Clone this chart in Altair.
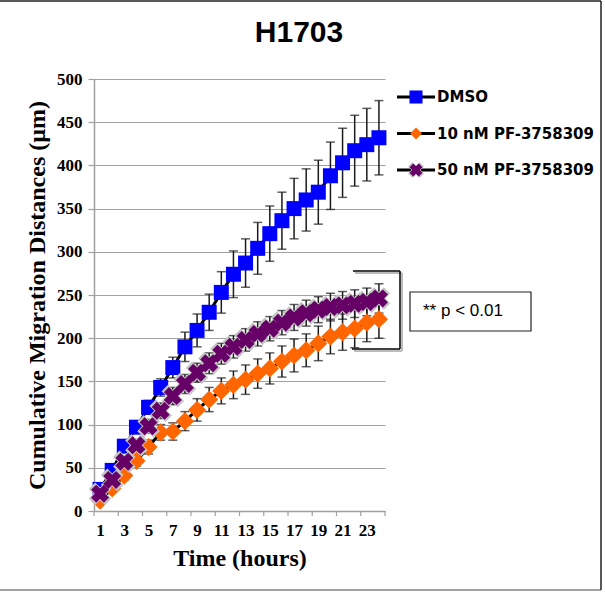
import altair as alt
import pandas as pd

# ---- data -------------------------------------------------------------
hours = list(range(1, 25))

series_names = ["DMSO", "10 nM PF-3758309", "50 nM PF-3758309"]

dmso = [25, 47, 75, 97, 120, 143, 166, 190, 209, 230, 253, 274,
        287, 304, 321, 336, 350, 360, 369, 388, 403, 417, 424, 432]
dmso_err = [3, 4, 5, 6, 8, 10, 12, 17, 19, 21, 24, 27,
            28, 30, 32, 33, 35, 36, 37, 39, 40, 41, 42, 43]

pf10 = [12, 26, 41, 58, 74, 91, 92, 104, 117, 129, 139, 146,
        152, 159, 165, 173, 180, 186, 194, 202, 207, 211, 218, 222]
pf10_err = [3, 4, 5, 6, 8, 9, 10, 11, 13, 14, 15, 16,
            17, 17, 18, 18, 19, 19, 20, 20, 21, 22, 22, 22]

pf50 = [20, 36, 57, 76, 98, 116, 133, 147, 160, 171, 182, 190,
        198, 205, 211, 218, 224, 229, 233, 236, 238, 240, 242, 246]
pf50_err = [4, 5, 6, 7, 8, 9, 10, 11, 11, 12, 12, 13,
            13, 14, 14, 14, 15, 15, 15, 16, 16, 16, 16, 17]

y_ticks = list(range(0, 501, 50))
x_labels = hours[::2]

chart_title = "H1703"
x_title = "Time (hours)"
y_title = "Cumulative Migration Distances (µm)"
note_text = "** p < 0.01"

# ---- long table --------------------------------------------------------
rows = []
for name, vals, errs in zip(series_names, [dmso, pf10, pf50],
                            [dmso_err, pf10_err, pf50_err]):
    for h, v, e in zip(hours, vals, errs):
        rows.append({"hour": h, "series": name, "value": v,
                     "lo": v - e, "hi": v + e})
df = pd.DataFrame(rows)

# category boundaries for the x tick marks (every second hour)
bounds = pd.DataFrame({"b": [h - 0.5 for h in hours[::2]] + [hours[-1] + 0.5]})

W, H = 291, 432
SERIF = "Liberation Serif"
SANS = "Liberation Sans"
AXIS_GREY = "#A0A0A0"

x_scale = alt.Scale(domain=[hours[0] - 0.5, hours[-1] + 0.5], nice=False, zero=False)
y_scale = alt.Scale(domain=[0, 500], nice=False, zero=True)

x_axis = alt.Axis(values=x_labels, ticks=False, tickSize=0, grid=False,
                  domainColor=AXIS_GREY, domainWidth=1.5,
                  labelFont=SERIF, labelFontWeight="bold", labelFontSize=17,
                  labelColor="black", labelPadding=11, labelBaseline="top",
                  title=x_title, titleFont=SERIF, titleFontWeight="bold",
                  titleFontSize=24, titleColor="black", titleY=47,
                  titleBaseline="middle")
y_axis = alt.Axis(values=y_ticks, grid=True, gridColor=AXIS_GREY, gridWidth=1.2,
                  tickColor=AXIS_GREY, tickSize=6, tickWidth=1.2,
                  domainColor=AXIS_GREY, domainWidth=1.5,
                  labelFont=SERIF, labelFontWeight="bold", labelFontSize=17,
                  labelColor="black", labelPadding=6,
                  title=y_title, titleFont=SERIF, titleFontWeight="bold",
                  titleFontSize=24, titleColor="black", titleAngle=270,
                  titleX=-57, titleY=H / 2, titleAlign="center",
                  titleBaseline="middle")


def xq(field):
    return alt.X(field, type="quantitative", scale=x_scale, axis=x_axis)


def yq(field):
    return alt.Y(field, type="quantitative", scale=y_scale, axis=y_axis)


base = alt.Chart(df)
ERR = "#1a1a1a"

# error bars
err_rule = base.mark_rule(color=ERR, strokeWidth=1.5).encode(
    x=xq("hour"), y=yq("lo"), y2="hi:Q")
cap_hi = base.mark_tick(orient="horizontal", size=9, thickness=1.5, color=ERR).encode(
    x=xq("hour"), y=yq("hi"))
cap_lo = base.mark_tick(orient="horizontal", size=9, thickness=1.5, color=ERR).encode(
    x=xq("hour"), y=yq("lo"))

# outward tick marks on the x axis at category boundaries
x_ticks = alt.Chart(bounds).mark_rule(color=AXIS_GREY, strokeWidth=1.2).encode(
    x=xq("b"), y=alt.value(H), y2=alt.value(H + 5))

lines = base.mark_line(color="black", strokeWidth=3).encode(
    x=xq("hour"), y=yq("value"), detail="series:N")


def markers(name, **mark):
    return base.transform_filter(alt.datum.series == name).mark_point(
        filled=True, opacity=1, strokeWidth=0, **mark).encode(
        x=xq("hour"), y=yq("value"))


blue = markers(series_names[0], shape="square", size=225, color="#0000FF")
orange = markers(series_names[1], shape="diamond", size=330, color="#FF6600")
purple_halo = markers(series_names[2], shape="cross", angle=45, size=520,
                      color="#C4C4C4")
purple = markers(series_names[2], shape="cross", angle=45, size=330,
                 color="#660066")

# ---- legend -------------------------------------------------------------
legend_layers = []
legend_marks = [
    dict(shape="square", size=170, color="#0000FF"),
    dict(shape="diamond", size=140, color="#FF6600"),
    dict(shape="cross", angle=45, size=170, color="#660066"),
]
for i, (name, mk) in enumerate(zip(series_names, legend_marks)):
    ly = 18 + i * 36.5
    src = alt.Chart(pd.DataFrame({"series": [name]}))
    legend_layers.append(src.mark_rule(color="black", strokeWidth=3).encode(
        x=alt.value(303), x2=alt.value(341), y=alt.value(ly)))
    if i == 2:
        legend_layers.append(src.mark_point(filled=True, opacity=1, strokeWidth=0,
                                            shape="cross", angle=45, size=260,
                                            color="#C4C4C4").encode(
            x=alt.value(322), y=alt.value(ly)))
    legend_layers.append(src.mark_point(filled=True, opacity=1, strokeWidth=0,
                                        **mk).encode(
        x=alt.value(322), y=alt.value(ly)))
    legend_layers.append(src.mark_text(align="left", baseline="middle",
                                       font="DejaVu Sans", fontWeight="bold",
                                       fontSize=15, color="black").encode(
        x=alt.value(343), y=alt.value(ly), text="series:N"))

# ---- title, significance bracket and note -------------------------------------
one = pd.DataFrame({"t": [chart_title], "n": [note_text]})
title = alt.Chart(one).mark_text(font=SANS, fontWeight="bold", fontSize=30,
                                 color="black", baseline="middle").encode(
    x=alt.value(205), y=alt.value(-46), text="t:N")


def seg(x1, y1, x2, y2, color="black", w=1.5):
    return alt.Chart(one).mark_rule(color=color, strokeWidth=w).encode(
        x=alt.value(x1), y=alt.value(y1), x2=alt.value(x2), y2=alt.value(y2))


bracket = [
    seg(261, 194, 308, 194, "#BBBBBB", 2),
    seg(308, 194, 308, 272, "#BBBBBB", 2),
    seg(260, 272, 308, 272, "#BBBBBB", 2),
    seg(259, 192, 306, 192),
    seg(306, 192, 306, 270),
    seg(258, 270, 306, 270),
]
note_box = alt.Chart(one).mark_rect(fill="white", stroke="#222222",
                                    strokeWidth=1.2).encode(
    x=alt.value(316), x2=alt.value(437), y=alt.value(213), y2=alt.value(252))
note = alt.Chart(one).mark_text(font=SANS, fontSize=17, color="black",
                                align="left", baseline="middle").encode(
    x=alt.value(329), y=alt.value(232), text="n:N")

# outer frame of the figure
frame = [
    seg(-94, -78, 507, -78, "#222222", 1.5),
    seg(507, -78, 507, 511, "#222222", 1.5),
    seg(-94, 511, 507, 511, "#444444", 1),
]

chart = alt.layer(
    err_rule, cap_hi, cap_lo, x_ticks, lines,
    blue, orange, purple_halo, purple,
    *legend_layers, title, *bracket, note_box, note, *frame,
).properties(
    width=W, height=H,
    autosize=alt.AutoSizeParams(type="none"),
    padding={"left": 94, "top": 79, "right": 220, "bottom": 81},
    background="white",
).configure_view(strokeWidth=0)

chart.save("out.html", embed_options={"renderer": "svg", "actions": False})
